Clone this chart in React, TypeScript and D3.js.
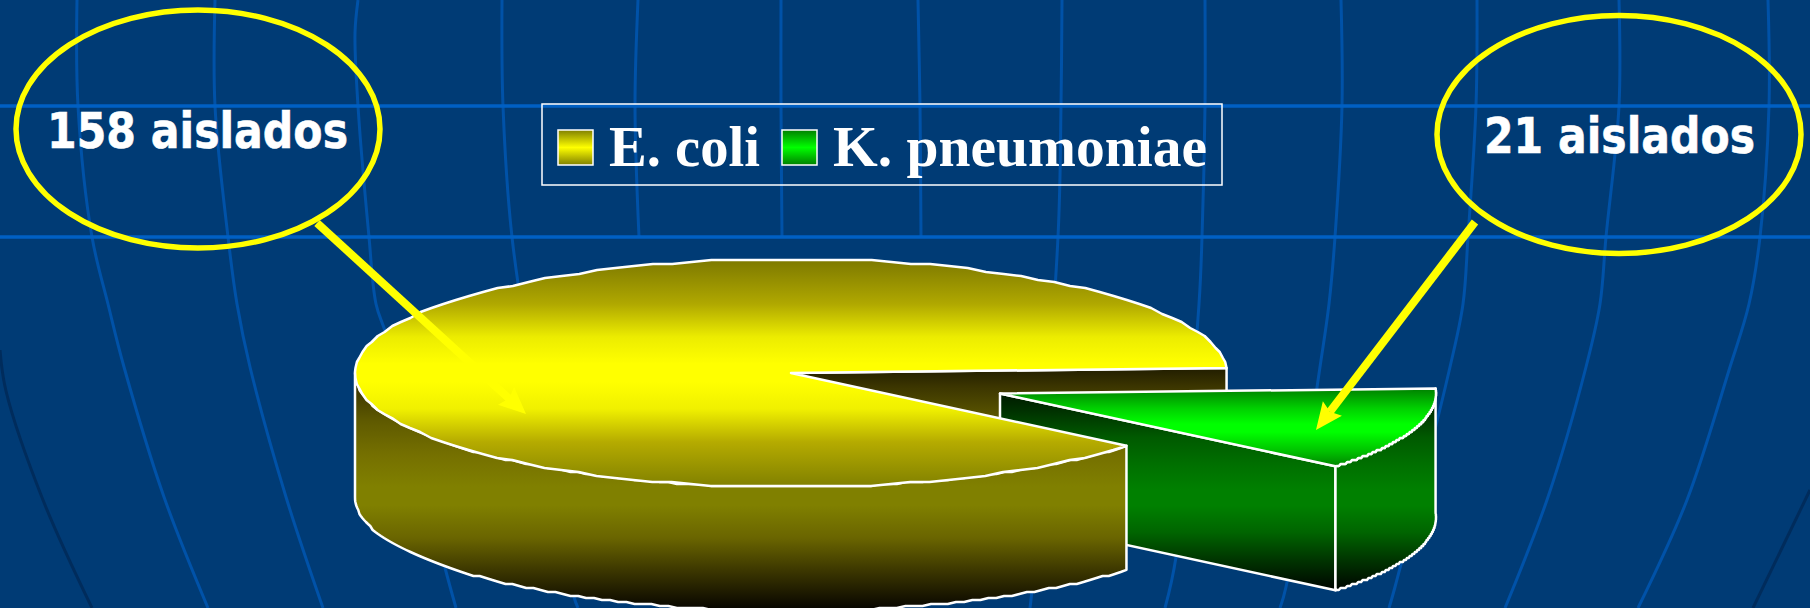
import * as d3 from "d3";
import React, { useEffect, useRef } from "react";

const categories = ["E. coli", "K. pneumoniae"];
const isolates = [158, 21];
const isolateSuffix = "aislados";

// background decoration
const gridRows = [106, 237];
const gridColumns: [number, number][][] = [
  [[77, 0], [78, 106], [92, 237], [108, 304], [124, 367], [164, 497], [208, 608]],
  [[215, 0], [215, 106], [228, 237], [237, 304], [250, 367], [286, 497], [323, 608]],
  [[358, 0], [355, 33], [358, 106], [369, 237], [376, 304], [387, 337], [444, 564], [456, 608]],
  [[502, 0], [503, 106], [512, 237], [540, 420], [574, 597], [578, 608]],
  [[638, 0], [635, 106], [639, 237]],
  [[781, 0], [781, 106], [782, 237]],
  [[918, 0], [920, 106], [921, 237]],
  [[1062, 0], [1061, 106], [1058, 237], [1032, 590], [1030, 608]],
  [[1205, 0], [1205, 106], [1202, 237], [1199, 304], [1176, 557], [1165, 608]],
  [[1341, 0], [1342, 106], [1335, 237], [1329, 304], [1320, 367], [1286, 587], [1280, 608]],
  [[1477, 0], [1476, 106], [1468, 237], [1463, 304], [1450, 367], [1395, 587], [1389, 608]],
  [[1619, 0], [1619, 106], [1606, 237], [1600, 304], [1586, 367], [1548, 497], [1505, 608]],
  [[1768, 0], [1769, 106], [1760, 237], [1749, 304], [1730, 367], [1687, 500], [1638, 608]],
];
const darkColumns: [number, number][][] = [
  [[0, 350], [6, 391], [43, 500], [92, 608]],
  [[1810, 490], [1753, 608]],
];

const WIDTH = 1810;
const HEIGHT = 608;

const wallOffsets = [0, 0.083, 0.223, 0.36, 0.49, 0.566, 0.7, 0.84, 0.95, 1];
const yellowWallColors = ["#201c00", "#3c3600", "#5f5a00", "#757000", "#808000", "#808000", "#6a6500", "#3a3500", "#151200", "#050400"];
const greenWallColors = ["#001a00", "#003000", "#005a00", "#007000", "#008000", "#008000", "#006500", "#003500", "#001200", "#000400"];

const App: React.FC = () => {
  const ref = useRef<SVGSVGElement>(null);

  useEffect(() => {
    const svg = d3.select(ref.current).html("");
    const defs = svg.append("defs");

    const cx = 791;
    const cy = 373;
    const rx = 436;
    const ry = 114;
    const depth = 124;
    const explode = { x: 209, y: 20.5 };

    // 0 is 12 o'clock in d3.pie, the green wedge ends up on the lower right
    const startAngle = (129.7 * Math.PI) / 180;
    const slices = d3
      .pie<number>()
      .sort(null)
      .startAngle(startAngle)
      .endAngle(startAngle + 2 * Math.PI)(isolates);

    const addGradient = (
      id: string,
      stops: [number, string][],
      y1?: number,
      y2?: number
    ) => {
      const g = defs
        .append("linearGradient")
        .attr("id", id)
        .attr("x1", 0)
        .attr("x2", 0);
      if (y1 !== undefined) {
        g.attr("gradientUnits", "userSpaceOnUse").attr("y1", y1).attr("y2", y2!);
      } else {
        g.attr("y1", 0).attr("y2", 1);
      }
      stops.forEach(([o, c]) => g.append("stop").attr("offset", o).attr("stop-color", c));
    };

    const yellowFace: [number, string][] = [
      [0, "#7c7800"], [0.197, "#b0a800"], [0.342, "#ecec00"], [0.46, "#ffff00"],
      [0.54, "#ffff00"], [0.658, "#f0f000"], [0.803, "#b5ab00"], [1, "#808000"],
    ];
    const greenFace: [number, string][] = [
      [0, "#008000"], [0.25, "#00d000"], [0.45, "#00ff00"], [0.55, "#00ff00"], [0.8, "#00c000"], [1, "#008000"],
    ];
    addGradient("yellowTop", yellowFace, cy - ry, cy + ry);
    addGradient("yellowWall", wallOffsets.map((o, i) => [o, yellowWallColors[i]] as [number, string]), cy - 6, cy + ry + depth);
    addGradient("greenTop", greenFace, cy + explode.y - 5, cy + explode.y + 74);
    addGradient("greenWall", wallOffsets.map((o, i) => [o, greenWallColors[i]] as [number, string]), cy + explode.y, cy + explode.y + 74 + depth);
    addGradient("yellowKey", [[0, "#808000"], [0.5, "#ffff00"], [1, "#808000"]]);
    addGradient("greenKey", [[0, "#008000"], [0.5, "#00ff00"], [1, "#008000"]]);

    // background
    svg.append("rect").attr("width", WIDTH).attr("height", HEIGHT).attr("fill", "#003b75");

    const gridLine = d3.line().curve(d3.curveCatmullRom);
    svg
      .append("g")
      .selectAll("path")
      .data(gridColumns)
      .join("path")
      .attr("d", (d) => gridLine(d))
      .attr("fill", "none")
      .attr("stroke", "#0052a8")
      .attr("stroke-width", 3);
    svg
      .append("g")
      .selectAll("path")
      .data(darkColumns)
      .join("path")
      .attr("d", (d) => gridLine(d))
      .attr("fill", "none")
      .attr("stroke", "#002c5c")
      .attr("stroke-width", 3);
    svg
      .append("g")
      .selectAll("line")
      .data(gridRows)
      .join("line")
      .attr("x1", 0)
      .attr("x2", WIDTH)
      .attr("y1", (d) => d)
      .attr("y2", (d) => d)
      .attr("stroke", "#0060c4")
      .attr("stroke-width", 3.5);

    // pie helpers
    const project = (a: number, ox: number, oy: number): [number, number] => [
      cx + ox + rx * Math.sin(a),
      cy + oy - ry * Math.cos(a),
    ];
    // the original rim is a low resolution stair step, so snap the height a little
    const snap = (v: number) => Math.round(v / 2) * 2;
    const arcPoints = (a0: number, a1: number, ox: number, oy: number) =>
      d3.range(0, 121).map((i) => {
        const [x, y] = project(a0 + ((a1 - a0) * i) / 120, ox, oy);
        return i === 0 || i === 120 ? ([x, y] as [number, number]) : ([x, snap(y)] as [number, number]);
      });
    const path = d3.line();
    const closed = (pts: [number, number][]) => path(pts) + "Z";
    const outline = (sel: d3.Selection<SVGPathElement, unknown, null, undefined>, w: number) =>
      sel.attr("stroke", "#ffffff").attr("stroke-width", w).attr("stroke-linejoin", "round");

    const pieG = svg.append("g");
    const [yellow, green] = slices;

    // cut face at the back of the notch
    const backEdge = project(yellow.endAngle, 0, 0);
    outline(
      pieG
        .append("path")
        .attr(
          "d",
          closed([
            [cx, cy],
            backEdge,
            [backEdge[0], backEdge[1] + depth],
            [cx, cy + depth],
          ])
        )
        .attr("fill", "url(#yellowWall)"),
      2.5
    );

    // green wedge
    const gOx = explode.x;
    const gOy = explode.y;
    const gVertex: [number, number] = [cx + gOx, cy + gOy];
    const gFront = project(green.endAngle, gOx, gOy);
    outline(
      pieG
        .append("path")
        .attr(
          "d",
          closed([
            gVertex,
            gFront,
            [gFront[0], gFront[1] + depth],
            [gVertex[0], gVertex[1] + depth],
          ])
        )
        .attr("fill", "url(#greenWall)"),
      2.5
    );
    outline(
      pieG
        .append("path")
        .attr(
          "d",
          closed([
            ...arcPoints(green.startAngle, green.endAngle, gOx, gOy),
            ...arcPoints(green.endAngle, green.startAngle, gOx, gOy + depth),
          ])
        )
        .attr("fill", "url(#greenWall)"),
      2.5
    );
    outline(
      pieG
        .append("path")
        .attr("d", closed([gVertex, ...arcPoints(green.startAngle, green.endAngle, gOx, gOy)]))
        .attr("fill", "url(#greenTop)"),
      2.5
    );

    // yellow body, only the front of the rim shows
    outline(
      pieG
        .append("path")
        .attr(
          "d",
          closed([
            ...arcPoints(yellow.startAngle, (3 * Math.PI) / 2, 0, 0),
            ...arcPoints((3 * Math.PI) / 2, yellow.startAngle, 0, depth),
          ])
        )
        .attr("fill", "url(#yellowWall)"),
      2.5
    );
    outline(
      pieG
        .append("path")
        .attr("d", closed([[cx, cy], ...arcPoints(yellow.startAngle, yellow.endAngle, 0, 0)]))
        .attr("fill", "url(#yellowTop)"),
      2.5
    );

    // legend
    const legend = svg.append("g");
    legend
      .append("rect")
      .attr("x", 542)
      .attr("y", 104)
      .attr("width", 680)
      .attr("height", 81)
      .attr("fill", "none")
      .attr("stroke", "#ffffff")
      .attr("stroke-width", 1.5);
    const keyX = [558, 782];
    const keyFill = ["url(#yellowKey)", "url(#greenKey)"];
    const keyWidth = [151, 374];
    const keyText = legend
      .selectAll("g")
      .data(categories)
      .join("g")
      .attr("transform", (_, i) => `translate(${keyX[i]},130)`);
    keyText
      .append("rect")
      .attr("width", 35)
      .attr("height", 35)
      .attr("fill", (_, i) => keyFill[i])
      .attr("stroke", "#ffffff")
      .attr("stroke-width", 1.5);
    keyText
      .append("text")
      .attr("x", 51)
      .attr("y", 36)
      .attr("textLength", (_, i) => keyWidth[i])
      .attr("lengthAdjust", "spacingAndGlyphs")
      .attr("font-family", "'Liberation Serif', serif")
      .attr("font-weight", "bold")
      .attr("font-size", 56)
      .attr("fill", "#ffffff")
      .text((d) => d);

    // callouts
    const callouts = [
      { cx: 198, cy: 129, rx: 182, tx: 47, tw: 301, ty: 148, from: [317, 223], to: [526, 414] },
      { cx: 1619, cy: 134.5, rx: 182, tx: 1484, tw: 271, ty: 153, from: [1475, 222], to: [1316, 430] },
    ];
    callouts.forEach((c, i) => {
      const g = svg.append("g");
      g.append("ellipse")
        .attr("cx", c.cx)
        .attr("cy", c.cy)
        .attr("rx", c.rx)
        .attr("ry", 119)
        .attr("fill", "none")
        .attr("stroke", "#ffff00")
        .attr("stroke-width", 5.5);
      g.append("text")
        .attr("x", c.tx)
        .attr("y", c.ty)
        .attr("textLength", c.tw)
        .attr("lengthAdjust", "spacingAndGlyphs")
        .attr("font-family", "'DejaVu Sans', sans-serif")
        .attr("font-weight", "bold")
        .attr("font-size", 50)
        .attr("fill", "#ffffff")
        .attr("stroke", "#ffffff")
        .attr("stroke-width", 0.6)
        .text(`${isolates[i]} ${isolateSuffix}`);

      const [x0, y0] = c.from;
      const [x1, y1] = c.to;
      const len = Math.hypot(x1 - x0, y1 - y0);
      const ux = (x1 - x0) / len;
      const uy = (y1 - y0) / len;
      const head = 27;
      const neck = 23;
      const half = 12;
      g.append("line")
        .attr("x1", x0)
        .attr("y1", y0)
        .attr("x2", x1 - ux * neck)
        .attr("y2", y1 - uy * neck)
        .attr("stroke", "#ffff00")
        .attr("stroke-width", 8);
      g.append("path")
        .attr(
          "d",
          closed([
            [x1, y1],
            [x1 - ux * head - uy * half, y1 - uy * head + ux * half],
            [x1 - ux * neck, y1 - uy * neck],
            [x1 - ux * head + uy * half, y1 - uy * head - ux * half],
          ])
        )
        .attr("fill", "#ffff00");
    });
  }, []);

  return (
    <svg
      ref={ref}
      width={WIDTH}
      height={HEIGHT}
      style={{ position: "absolute", left: 0, top: 0, display: "block" }}
    ></svg>
  );
};

export default App;
